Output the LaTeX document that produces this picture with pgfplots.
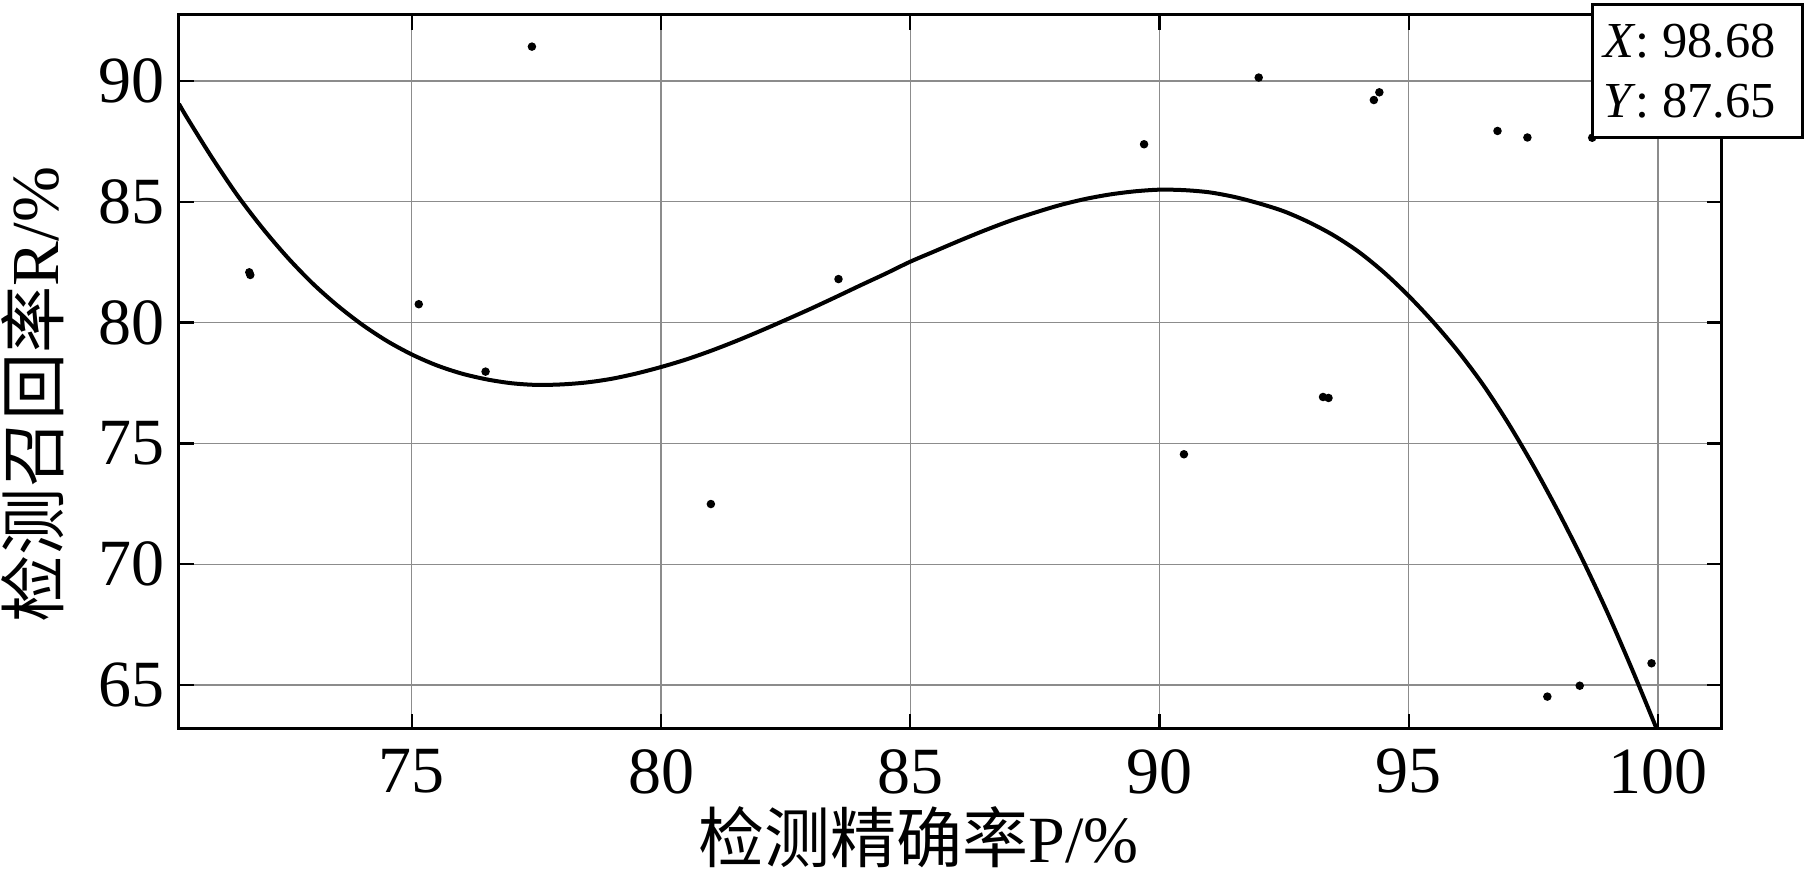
\documentclass[border=0pt]{standalone}
\usepackage{fontspec}
\setmainfont{Liberation Serif}
\newfontfamily\cjk{Noto Sans CJK SC}
\usepackage{pgfplots}
\pgfplotsset{compat=1.18}

\begin{document}
\begin{tikzpicture}
\path[use as bounding box] (-44.75pt,-36.25pt) rectangle (406.75pt,182.25pt);
\begin{axis}[
  at={(0pt,0pt)}, anchor=south west,
  scale only axis, width=385.7pt, height=178.5pt,
  xmin=70.33, xmax=101.28, ymin=63.18, ymax=92.73,
  xtick={75,80,...,100}, ytick={65,70,...,90},
  grid=major, major grid style={black!45, line width=0.35pt},
  tick align=inside, major tick length=3.75pt,
  tick style={black, line width=0.6pt},
  axis line style={line width=0.75pt},
  ticklabel style={font=\fontsize{16.5}{18}\selectfont},
  /pgf/number format/assume math mode=true,
  xticklabel style={yshift=-1.5pt},
  xlabel={{\cjk 检测精确率}P/\%},
  ylabel={{\cjk 检测召回率}R/\%},
  xlabel style={at={(axis description cs:0.4794,-0.151)}, anchor=center, font=\fontsize{16.5}{18}\selectfont},
  ylabel style={at={(axis description cs:-0.0946,0.4685)}, anchor=center, font=\fontsize{16.8}{18}\selectfont},
  clip mode=individual,
]
% fitted curve
\addplot[black, line width=1pt, smooth, no markers] coordinates {
  (70.33,89.05) (70.5,88.45) (71,86.80) (71.5,85.27) (72,83.92) (72.5,82.71)
  (73,81.64) (73.5,80.72) (74,79.92) (74.5,79.24) (75,78.68) (75.5,78.23)
  (76,77.89) (76.5,77.65) (77,77.49) (77.5,77.42) (78,77.44) (78.5,77.52)
  (79,77.67) (79.5,77.89) (80,78.16) (80.5,78.47) (81,78.83) (81.5,79.23)
  (82,79.66) (82.5,80.11) (83,80.57) (83.5,81.05) (84,81.54) (84.5,82.02)
  (85,82.52) (85.5,82.96) (86,83.40) (86.5,83.82) (87,84.21) (87.5,84.55)
  (88,84.86) (88.5,85.11) (89,85.30) (89.5,85.43) (90,85.50) (90.5,85.48)
  (91,85.39) (91.5,85.20) (92,84.93) (92.5,84.60) (93,84.15) (93.5,83.60)
  (94,82.92) (94.5,82.08) (95,81.10) (95.5,80.00) (96,78.78) (96.5,77.40)
  (97,75.82) (97.5,74.07) (98,72.17) (98.5,70.13) (99,67.93) (99.5,65.55)
  (99.97,63.20)
};
% measured points
\addplot[only marks, mark=*, mark size=0.85pt, black] coordinates {
  (71.74,82.08) (71.76,81.97) (75.14,80.76) (76.48,77.97) (77.41,91.42)
  (81.00,72.49) (83.56,81.80) (89.69,87.38) (90.49,74.55) (91.99,90.14)
  (93.28,76.92) (93.39,76.88) (94.30,89.21) (94.41,89.53) (96.78,87.93)
  (97.38,87.66) (97.78,64.52) (98.43,64.97) (98.68,87.65) (99.87,65.90)
};
\coordinate (tip) at (axis cs:98.68,87.65);
\end{axis}
% data tip
\draw[fill=white, line width=0.8pt] (tip) rectangle ++(52.5pt,33.25pt);
\node[anchor=base west, inner sep=0pt, font=\fontsize{12.6}{14}\selectfont] at ([shift={(2.5pt,20pt)}]tip) {\textit{X}: 98.68};
\node[anchor=base west, inner sep=0pt, font=\fontsize{12.6}{14}\selectfont] at ([shift={(2.5pt,5pt)}]tip) {\textit{Y}: 87.65};
\end{tikzpicture}
\end{document}
